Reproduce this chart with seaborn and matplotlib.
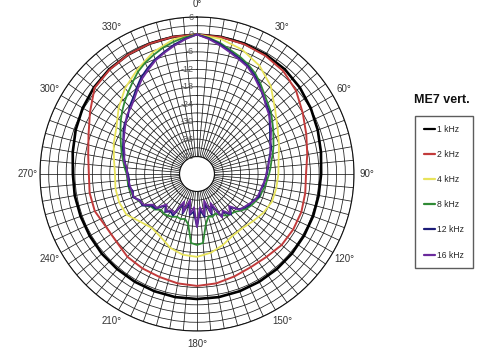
import numpy as np
import pandas as pd
import matplotlib
matplotlib.use('Agg')
import matplotlib.pyplot as plt
import seaborn as sns
from matplotlib.transforms import offset_copy
from matplotlib.lines import Line2D

# ---------------- data (dB) ----------------
angles_10 = list(range(0, 360, 10))
angles_5 = list(range(0, 360, 5))

khz1 = [0.0, -0.1, -0.3, -0.6, -1.0, -1.8, -2.8, -3.8, -4.7, -5.3,
        -5.5, -5.5, -5.5, -5.4, -5.3, -5.2, -5.1, -5.0, -5.0, -5.0,
        -5.1, -5.2, -5.3, -5.3, -5.4, -5.4, -5.3, -5.3, -4.6, -3.6,
        -2.6, -1.7, -1.0, -0.6, -0.3, -0.1]

khz2 = [0.0, -0.2, -0.5, -1.0, -1.8, -3.5, -6.0, -8.0, -9.5, -10.5,
        -10.2, -9.8, -9.8, -10.0, -10.8, -11.0, -10.5, -9.8, -9.5, -9.8,
        -10.3, -10.5, -10.8, -11.8, -11.8, -10.6, -10.5, -10.8, -10.0, -8.3,
        -5.5, -2.0, -1.2, -0.6, -0.3, -0.1]

khz4 = [0.0, -0.8, -2.5, -5.0, -8.5, -13.0, -16.0, -18.0, -19.5, -20.0,
        -20.3, -20.5, -21.5, -22.8, -23.7, -23.5, -22.0, -20.5, -19.5, -19.8,
        -21.0, -23.0, -23.8, -22.5, -20.0, -19.5, -19.5, -19.8, -19.0, -17.5,
        -16.0, -12.8, -9.5, -6.7, -3.5, -1.0]

khz8 = [0.0, -1.0, -2.2, -3.8, -5.0, -6.4, -8.0, -10.0, -12.0, -13.6,
        -14.8, -16.4, -17.7, -19.0, -20.0, -21.0, -22.0, -22.6, -23.2, -23.8,
        -24.2, -24.8, -25.0, -25.8, -26.4, -27.2, -28.4, -29.6, -30.0, -30.6,
        -31.6, -33.0, -32.4, -32.8, -30.5, -24.2, -23.6, -24.2, -30.5, -32.0,
        -31.5, -31.8, -31.0, -30.5, -30.2, -30.6, -29.0, -28.6, -26.5, -26.0,
        -24.8, -24.4, -24.0, -24.0, -23.8, -23.0, -22.2, -21.2, -20.2, -19.0,
        -17.6, -16.0, -14.4, -12.8, -11.2, -9.4, -7.4, -5.8, -4.4, -3.0,
        -1.8, -0.8]

khz12 = [0.0, -1.2, -2.6, -4.3, -5.6, -6.9, -8.6, -10.6, -12.8, -14.2,
         -15.4, -17.5, -19.0, -20.3, -20.8, -22.0, -23.0, -23.4, -24.0, -24.6,
         -24.8, -25.6, -25.2, -26.6, -27.0, -27.8, -29.2, -31.8, -29.8, -32.0,
         -31.4, -36.0, -33.2, -37.5, -33.0, -35.5, -29.8, -35.0, -33.7, -37.8,
         -33.5, -36.8, -31.5, -32.2, -31.0, -32.7, -29.4, -29.0, -26.3, -26.5,
         -24.6, -25.2, -24.2, -24.6, -24.3, -23.5, -22.8, -21.8, -20.9, -20.0,
         -18.8, -17.6, -17.0, -15.2, -13.8, -11.8, -9.6, -7.8, -6.0, -4.5,
         -2.8, -1.3]

khz16 = [0.0, -1.4, -3.0, -4.6, -6.0, -7.2, -9.0, -11.0, -12.5, -14.6,
         -15.8, -17.2, -18.6, -20.0, -21.2, -21.8, -22.8, -23.6, -24.2, -24.4,
         -25.2, -25.4, -25.8, -26.2, -27.4, -28.2, -28.8, -32.4, -30.2, -32.6,
         -30.8, -37.0, -33.8, -38.5, -33.8, -36.5, -29.8, -36.5, -34.2, -38.8,
         -34.0, -37.5, -32.2, -32.8, -31.4, -33.2, -29.8, -29.6, -26.8, -26.2,
         -24.9, -24.8, -24.6, -24.3, -24.0, -23.8, -22.5, -22.2, -21.3, -20.2,
         -19.2, -18.0, -16.5, -15.8, -14.4, -12.4, -10.2, -8.4, -6.4, -4.8,
         -3.2, -1.5]

series_names = ['1 kHz', '2 kHz', '4 kHz', '8 kHz', '12 kHz', '16 kHz']
series_vals = [khz1, khz2, khz4, khz8, khz12, khz16]
series_angles = [angles_10, angles_10, angles_10, angles_5, angles_5, angles_5]
colors = ['#000000', '#c23b3b', '#e8e35a', '#2f8a35', '#1c1c78', '#6a2a9c']
widths = [1.9, 1.4, 1.3, 1.3, 1.3, 1.3]

ring_values = list(range(6, -43, -6))
angle_labels = list(range(0, 360, 30))

# ---------------- figure ----------------
sns.set_style('white')
plt.rcParams['font.family'] = ['Liberation Sans', 'DejaVu Sans']

fig = plt.figure(figsize=(4.89, 3.5), dpi=100)
ax = fig.add_axes([40 / 489, 1 - 331 / 350, 314 / 489, 314 / 350], projection='polar')
ax.set_theta_zero_location('N')
ax.set_theta_direction(-1)
ax.set_ylim(-42, 6)
ax.set_rorigin(-48)

ax.set_xticks(np.deg2rad(np.arange(0, 360, 5)))
ax.set_xticklabels([])
ax.set_yticks(np.arange(-42, 7, 3))
ax.set_yticklabels([])
ax.tick_params(length=0)
ax.grid(True, color='#1a1a1a', linewidth=0.55)
for sp in ax.spines.values():
    sp.set_color('#111111')
    sp.set_linewidth(0.8)

for name, vals, angs, col, lw in zip(series_names, series_vals, series_angles, colors, widths):
    th = np.deg2rad(np.array(angs + [360]))
    db = np.array(vals + [vals[0]])
    df = pd.DataFrame({'theta': th, 'db': db, 'freq': name})
    sns.lineplot(data=df, x='theta', y='db', sort=False, estimator=None,
                 color=col, linewidth=lw, ax=ax, legend=False)
ax.set_xlabel('')
ax.set_ylabel('')

# angle labels
for a in angle_labels:
    ax.text(np.deg2rad(a), 10.4, f'{a}°', ha='center', va='center',
            fontsize=7, color='#333333', clip_on=False)

# radial labels, just left of the 0° spoke
trans = offset_copy(ax.transData, fig=fig, x=-3, y=0, units='dots')
for v in ring_values:
    ax.text(0, v, f'{v}', ha='right', va='center', fontsize=6.5,
            color='#555555', transform=trans, clip_on=False)

# legend
handles = [Line2D([], [], color=c, linewidth=1.6) for c in colors]
fig.legend(handles, series_names, loc='upper left',
           bbox_to_anchor=(415 / 489, 1 - 116 / 350), frameon=True,
           fancybox=False, edgecolor='#333333', fontsize=6.2,
           handlelength=1.3, handletextpad=0.3, labelspacing=1.88,
           borderpad=1.0, borderaxespad=0)
fig.text(442 / 489, 1 - 100 / 350, 'ME7 vert.', ha='center', va='center',
         fontsize=9, fontweight='bold', color='#111111')

fig.savefig('out.png', dpi=100, facecolor='white')
